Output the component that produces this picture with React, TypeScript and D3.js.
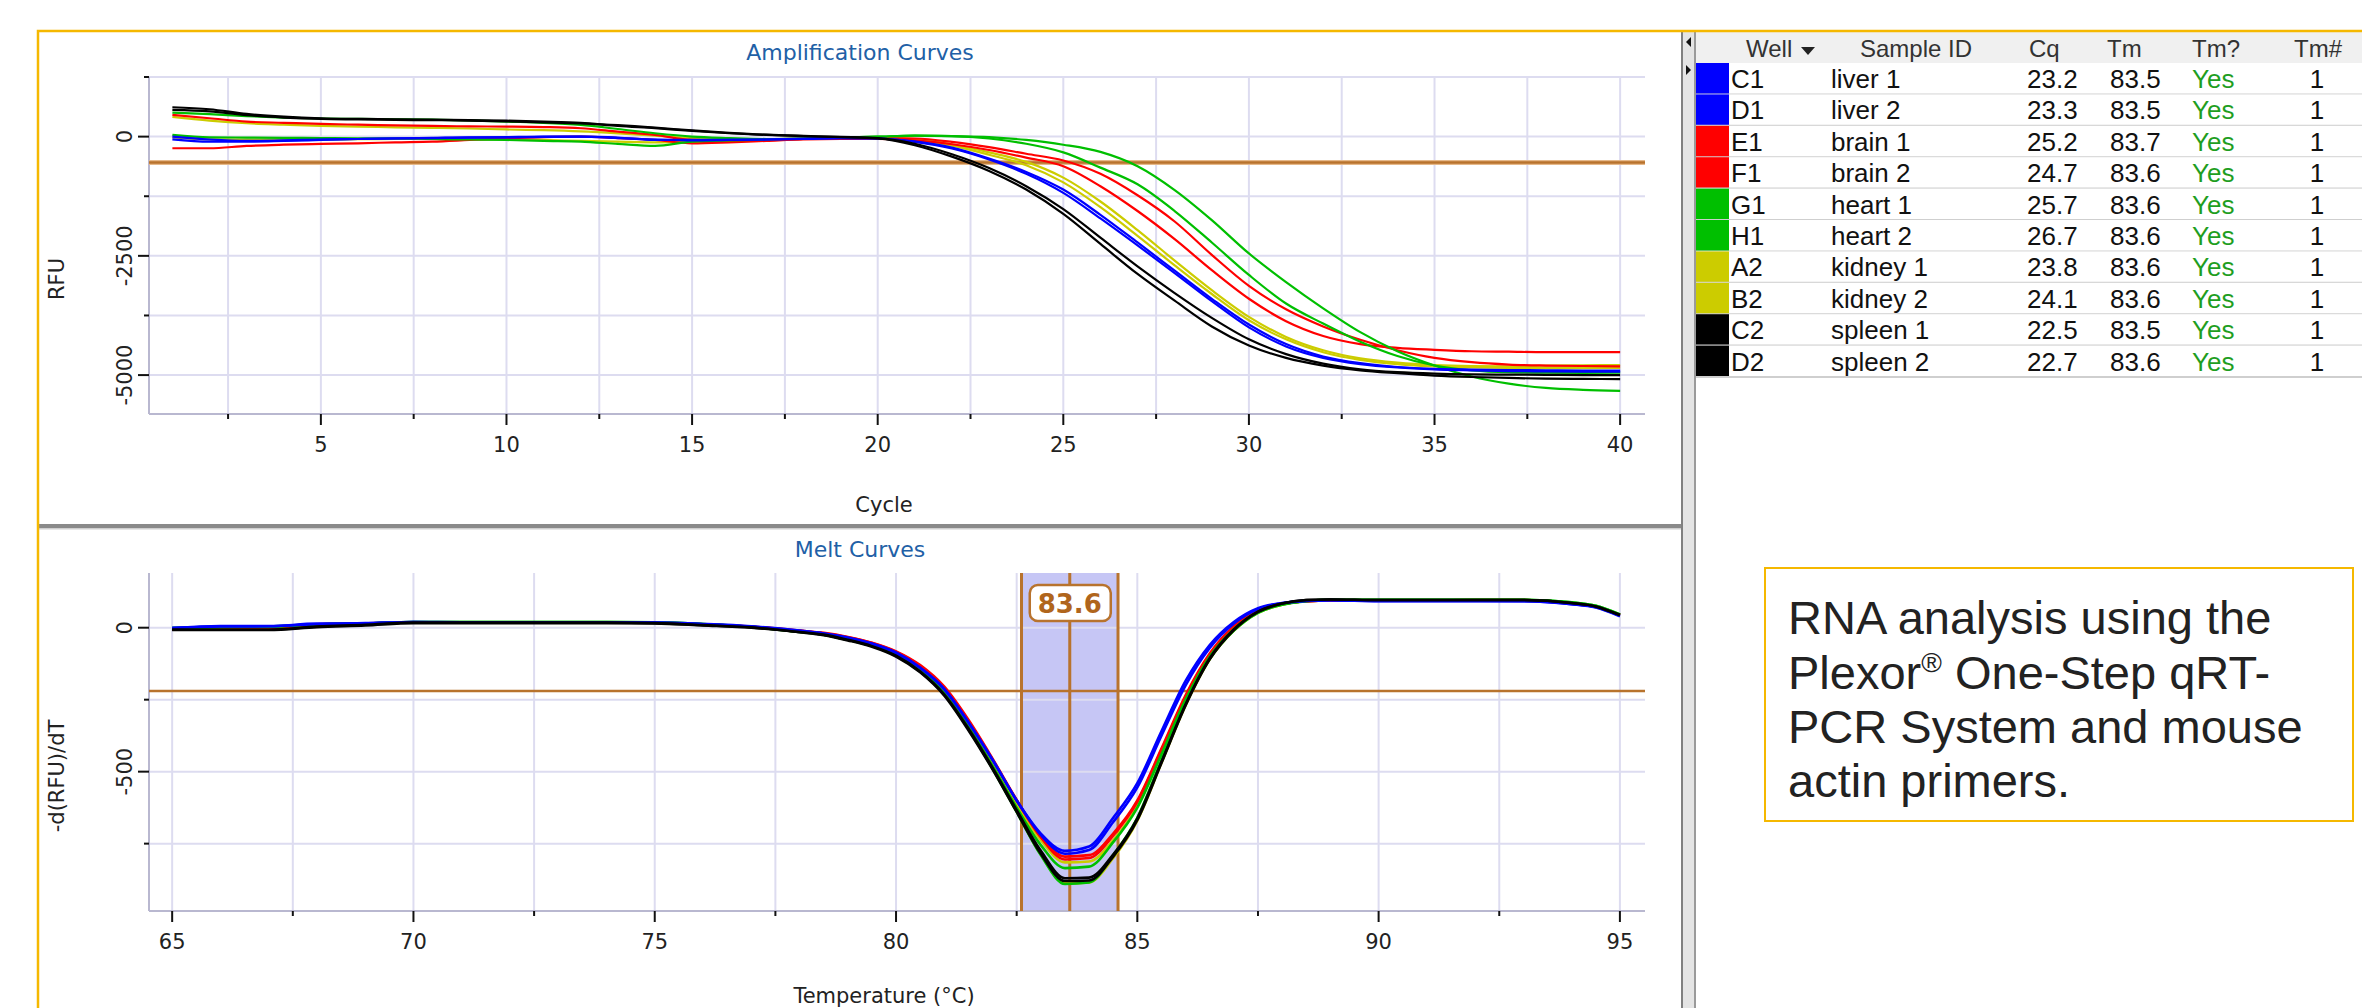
import React from 'react';
import * as d3 from 'd3';

// ---------------- DATA ----------------
const CYCLES = [1, 2, 3, 4, 5, 6, 7, 8, 9, 10, 11, 12, 13, 14, 15, 16, 17, 18, 19, 20, 21, 22, 23, 24, 25, 26, 27, 28, 29, 30, 31, 32, 33, 34, 35, 36, 37, 38, 39, 40];

const AMP_C1 = [-56, -105, -105, -90, -70, -50, -35, -25, -14, -14, -5, 0, -20, -70, -70, -70, -60, -40, -30, -40, -110, -250, -480, -780, -1180, -1715, -2280, -2860, -3450, -4000, -4400, -4640, -4770, -4840, -4880, -4900, -4915, -4925, -4930, -4930];
const AMP_D1 = [0, -60, -90, -80, -60, -50, -40, -30, -20, -10, 0, 0, -30, -60, -80, -70, -60, -50, -30, -40, -100, -230, -460, -740, -1110, -1640, -2220, -2810, -3400, -3940, -4350, -4610, -4750, -4830, -4870, -4885, -4895, -4900, -4905, -4905];
const AMP_E1 = [455, 385, 314, 290, 266, 250, 235, 224, 215, 210, 200, 175, 105, 36, -69, -80, -60, -40, -30, -30, -40, -110, -220, -360, -500, -780, -1230, -1780, -2480, -3130, -3620, -3980, -4260, -4480, -4640, -4730, -4780, -4800, -4810, -4816];
const AMP_F1 = [-244, -244, -195, -170, -154, -140, -120, -105, -70, -35, -10, 0, -30, -70, -140, -120, -90, -60, -50, -50, -80, -160, -280, -440, -620, -1040, -1560, -2150, -2800, -3400, -3870, -4180, -4350, -4430, -4470, -4500, -4510, -4520, -4520, -4520];
const AMP_G1 = [503, 470, 430, 400, 380, 372, 364, 355, 340, 314, 290, 245, 160, 70, 0, -30, -50, -40, -20, 0, 20, 10, -40, -150, -330, -650, -1000, -1560, -2220, -2900, -3500, -3920, -4300, -4600, -4800, -4900, -4940, -4950, -4955, -4950];
const AMP_H1 = [36, -14, -20, -25, -30, -35, -35, -50, -60, -70, -90, -105, -154, -195, -105, -80, -60, -40, -20, 0, 20, 10, -10, -70, -170, -320, -620, -1120, -1750, -2450, -3050, -3600, -4100, -4500, -4800, -5030, -5180, -5270, -5310, -5330];
const AMP_A2 = [413, 335, 280, 250, 224, 210, 195, 185, 170, 150, 135, 110, 70, 20, -30, -60, -60, -50, -30, -20, -70, -190, -380, -600, -960, -1480, -2080, -2700, -3300, -3850, -4250, -4520, -4680, -4770, -4820, -4840, -4850, -4855, -4855, -4850];
const AMP_B2 = [-14, -56, -60, -60, -60, -55, -50, -50, -55, -60, -70, -90, -105, -120, -110, -90, -70, -50, -30, -10, -50, -160, -330, -530, -860, -1360, -1960, -2600, -3220, -3780, -4200, -4480, -4650, -4740, -4790, -4810, -4815, -4800, -4795, -4790];
const AMP_C2 = [616, 574, 476, 419, 385, 372, 364, 355, 345, 335, 315, 287, 224, 176, 120, 71, 36, 10, -10, -40, -180, -420, -720, -1110, -1620, -2250, -2880, -3440, -3980, -4380, -4640, -4800, -4900, -4960, -5010, -5040, -5060, -5075, -5080, -5085];
const AMP_D2 = [560, 530, 450, 400, 370, 360, 350, 345, 335, 320, 300, 275, 240, 190, 130, 80, 40, 15, -5, -30, -150, -370, -660, -1040, -1520, -2120, -2720, -3280, -3800, -4250, -4560, -4760, -4880, -4940, -4970, -4985, -4990, -4995, -5000, -5000];

const MELT_TEMPS = [65, 66, 67, 68, 69, 70, 71, 72, 73, 74, 75, 76, 77, 78, 78.5, 79, 79.5, 80, 80.5, 81, 81.5, 82, 82.5, 83, 83.5, 84, 84.5, 85, 85.5, 86, 86.5, 87, 87.5, 88, 88.5, 89, 90, 91, 92, 93, 94, 94.5, 95];
const MELT_C1 = [-2, 6, 6, 12, 16, 20, 19, 19, 19, 19, 18, 12, 4, -12, -20, -36, -56, -88, -140, -215, -330, -460, -600, -715, -775, -760, -660, -540, -360, -185, -60, 20, 68, 86, 94, 96, 93, 93, 93, 92, 82, 70, 40];
const MELT_D1 = [0, 4, 5, 14, 15, 20, 18, 18, 18, 18, 18, 13, 5, -10, -20, -34, -55, -86, -138, -212, -328, -458, -600, -720, -785, -772, -675, -555, -375, -200, -70, 15, 65, 85, 93, 95, 92, 92, 92, 92, 82, 72, 42];
const MELT_E1 = [-5, 0, 0, 10, 14, 18, 18, 18, 18, 18, 17, 12, 4, -10, -18, -32, -52, -82, -130, -205, -320, -455, -598, -725, -795, -790, -715, -600, -420, -235, -90, 5, 60, 82, 92, 95, 95, 95, 96, 96, 86, 74, 44];
const MELT_F1 = [-4, 2, 0, 12, 15, 19, 18, 18, 18, 18, 17, 11, 3, -11, -19, -33, -53, -84, -133, -208, -324, -458, -600, -728, -805, -800, -722, -605, -425, -240, -95, 0, 58, 82, 92, 95, 95, 95, 96, 96, 85, 74, 44];
const MELT_G1 = [0, 3, 4, 12, 15, 20, 20, 20, 20, 20, 19, 13, 3, -14, -23, -40, -62, -95, -148, -228, -345, -480, -625, -755, -835, -830, -745, -625, -440, -250, -100, -5, 55, 82, 93, 97, 97, 97, 97, 97, 88, 76, 46];
const MELT_H1 = [-3, 2, 3, 12, 15, 20, 20, 20, 20, 20, 19, 13, 3, -15, -24, -42, -64, -98, -152, -232, -352, -490, -640, -790, -890, -885, -790, -660, -460, -262, -108, -10, 52, 80, 92, 97, 97, 97, 97, 97, 88, 76, 46];
const MELT_A2 = [-5, 0, 0, 10, 14, 18, 18, 18, 18, 18, 17, 11, 2, -14, -23, -40, -62, -96, -150, -230, -350, -488, -638, -788, -888, -885, -800, -670, -470, -270, -110, -10, 52, 80, 92, 95, 94, 94, 94, 94, 84, 72, 42];
const MELT_B2 = [-4, 1, 1, 11, 14, 18, 18, 18, 18, 18, 17, 11, 3, -12, -20, -36, -56, -88, -140, -218, -335, -468, -612, -738, -815, -812, -738, -618, -432, -245, -98, -3, 56, 81, 92, 95, 94, 94, 94, 94, 84, 72, 42];
const MELT_C2 = [-8, -8, -8, 2, 8, 16, 16, 16, 16, 16, 15, 8, 0, -16, -26, -44, -66, -100, -155, -236, -356, -492, -640, -785, -880, -878, -795, -668, -470, -270, -110, -8, 55, 84, 96, 98, 96, 96, 96, 96, 86, 74, 44];
const MELT_D2 = [-6, -7, -7, 4, 10, 18, 18, 18, 18, 18, 16, 9, 1, -15, -24, -42, -64, -97, -152, -232, -350, -486, -634, -775, -870, -868, -788, -662, -466, -266, -106, -6, 56, 84, 96, 98, 96, 96, 96, 96, 86, 74, 44];

const WELLS = ['C1', 'D1', 'E1', 'F1', 'G1', 'H1', 'A2', 'B2', 'C2', 'D2'];
const SAMPLES = ['liver 1', 'liver 2', 'brain 1', 'brain 2', 'heart 1', 'heart 2', 'kidney 1', 'kidney 2', 'spleen 1', 'spleen 2'];
const CQ = ['23.2', '23.3', '25.2', '24.7', '25.7', '26.7', '23.8', '24.1', '22.5', '22.7'];
const TM = ['83.5', '83.5', '83.7', '83.6', '83.6', '83.6', '83.6', '83.6', '83.5', '83.6'];
const TM_CALLED = ['Yes', 'Yes', 'Yes', 'Yes', 'Yes', 'Yes', 'Yes', 'Yes', 'Yes', 'Yes'];
const TM_COUNT = ['1', '1', '1', '1', '1', '1', '1', '1', '1', '1'];
const WELL_COLORS = ['#0000ff', '#0000ff', '#ff0000', '#ff0000', '#00bf00', '#00bf00', '#cccc00', '#cccc00', '#000000', '#000000'];

const AMP_SERIES = [AMP_C1, AMP_D1, AMP_E1, AMP_F1, AMP_G1, AMP_H1, AMP_A2, AMP_B2, AMP_C2, AMP_D2];
const MELT_SERIES = [MELT_C1, MELT_D1, MELT_E1, MELT_F1, MELT_G1, MELT_H1, MELT_A2, MELT_B2, MELT_C2, MELT_D2];

const AMP_X_TICKS = [5, 10, 15, 20, 25, 30, 35, 40];
const AMP_X_MINOR = [2.5, 7.5, 12.5, 17.5, 22.5, 27.5, 32.5, 37.5];
const AMP_Y_TICKS = [0, -2500, -5000];
const AMP_Y_MINOR = [1250, -1250, -3750];
const MELT_X_TICKS = [65, 70, 75, 80, 85, 90, 95];
const MELT_X_MINOR = [67.5, 72.5, 77.5, 82.5, 87.5, 92.5];
const MELT_Y_TICKS = [0, -500];
const MELT_Y_MINOR = [-250, -750];
const AMP_THRESHOLD = -545;
const MELT_THRESHOLD = -220;
const MELT_PEAK = 83.6;
const MELT_BAND = [82.6, 84.6];

const TEXT_LINES = ['RNA analysis using the', 'Plexor', ' One-Step qRT-', 'PCR System and mouse', 'actin primers.'];

// ---------------- LAYOUT ----------------
const W = 2362;
const H = 1008;
const PL = 149;
const PR = 1645;
const AMP_T = 77;
const AMP_B = 414;
const MELT_T = 573;
const MELT_B = 911;
const GOLD = '#f5b800';
const BROWN = '#b8732d';
const GRID = '#dddcf0';
const AXIS = '#b9b8d0';
const AXFONT = "'DejaVu Sans', Verdana, sans-serif";
const TBFONT = "'Liberation Sans', Arial, sans-serif";

const ampX = d3.scaleLinear().domain([0.37, 40.67]).range([PL, PR]);
const ampY = d3.scaleLinear().domain([-5816, 1250]).range([AMP_B, AMP_T]);
const meltX = d3.scaleLinear().domain([64.52, 95.52]).range([PL, PR]);
const meltY = d3.scaleLinear().domain([-984, 190]).range([MELT_B, MELT_T]);

function Axes({ xs, ys, top, bottom, xTicks, xMinor, yTicks, yMinor, xGrid, yGrid }: any) {
  return (
    <g>
      {xGrid.map((v: number) => (
        <line key={'gx' + v} x1={xs(v)} x2={xs(v)} y1={top} y2={bottom} stroke={GRID} strokeWidth={2} />
      ))}
      {yGrid.map((v: number) => (
        <line key={'gy' + v} x1={PL} x2={PR} y1={ys(v)} y2={ys(v)} stroke={GRID} strokeWidth={2} />
      ))}
      <line x1={PL} x2={PL} y1={top} y2={bottom} stroke={AXIS} strokeWidth={2} />
      <line x1={PL} x2={PR} y1={bottom} y2={bottom} stroke={AXIS} strokeWidth={2} />
      {xTicks.map((v: number) => (
        <g key={'xt' + v}>
          <line x1={xs(v)} x2={xs(v)} y1={bottom} y2={bottom + 11} stroke="#111" strokeWidth={2} />
          <text x={xs(v)} y={bottom + 38} textAnchor="middle" fontFamily={AXFONT} fontSize={21} fill="#222">{v}</text>
        </g>
      ))}
      {xMinor.map((v: number) => (
        <line key={'xm' + v} x1={xs(v)} x2={xs(v)} y1={bottom} y2={bottom + 5} stroke="#111" strokeWidth={2} />
      ))}
      {yTicks.map((v: number) => (
        <g key={'yt' + v}>
          <line x1={PL - 11} x2={PL} y1={ys(v)} y2={ys(v)} stroke="#111" strokeWidth={2} />
          <text transform={`translate(125,${ys(v)}) rotate(-90)`} textAnchor="middle" dominantBaseline="central" fontFamily={AXFONT} fontSize={21} fill="#222">{v}</text>
        </g>
      ))}
      {yMinor.map((v: number) => (
        <line key={'ym' + v} x1={PL - 5} x2={PL} y1={ys(v)} y2={ys(v)} stroke="#111" strokeWidth={2} />
      ))}
    </g>
  );
}

export default function App() {
  const ampLine = d3.line<number>().x((_, i) => ampX(CYCLES[i])).y((d) => ampY(d)).curve(d3.curveMonotoneX);
  const meltLine = d3.line<number>().x((_, i) => meltX(MELT_TEMPS[i])).y((d) => meltY(d)).curve(d3.curveMonotoneX);
  const rowTop = 63;
  const rowH = 31.4;
  const order = [6, 7, 2, 3, 4, 5, 0, 1, 8, 9];
  return (
    <div>
      <style>{`body{margin:0;}`}</style>
      <svg width={W} height={H} viewBox={`0 0 ${W} ${H}`} style={{ display: 'block', background: '#fff' }}>
        <rect x={0} y={0} width={W} height={H} fill="#fff" />

        {/* ---------- Amplification chart ---------- */}
        <text x={860} y={60} textAnchor="middle" fontFamily={AXFONT} fontSize={22} fill="#2160a6">Amplification Curves</text>
        <Axes xs={ampX} ys={ampY} top={AMP_T} bottom={AMP_B} xTicks={AMP_X_TICKS} xMinor={AMP_X_MINOR}
          yTicks={AMP_Y_TICKS} yMinor={AMP_Y_MINOR} xGrid={[...AMP_X_MINOR, ...AMP_X_TICKS]} yGrid={[...AMP_Y_TICKS, ...AMP_Y_MINOR]} />
        <line x1={PL} x2={PR} y1={ampY(AMP_THRESHOLD)} y2={ampY(AMP_THRESHOLD)} stroke="#e6b98a" strokeWidth={5} />
        <line x1={PL} x2={PR} y1={ampY(AMP_THRESHOLD)} y2={ampY(AMP_THRESHOLD)} stroke={BROWN} strokeWidth={2.5} />
        {order.map((i) => (
          <path key={'amp' + i} d={ampLine(AMP_SERIES[i]) || ''} fill="none" stroke={WELL_COLORS[i]} strokeWidth={2.2} />
        ))}
        <text x={884} y={512} textAnchor="middle" fontFamily={AXFONT} fontSize={21} fill="#222">Cycle</text>
        <text transform="translate(57,279) rotate(-90)" textAnchor="middle" dominantBaseline="central" fontFamily={AXFONT} fontSize={21} fill="#222">RFU</text>

        {/* splitter */}
        <rect x={38} y={524} width={1643} height={4} fill="#8a8a8a" />
        <rect x={38} y={528} width={1643} height={1.5} fill="#cfcfcf" />

        {/* ---------- Melt chart ---------- */}
        <text x={860} y={557} textAnchor="middle" fontFamily={AXFONT} fontSize={22} fill="#2160a6">Melt Curves</text>
        <rect x={meltX(MELT_BAND[0])} y={MELT_T} width={meltX(MELT_BAND[1]) - meltX(MELT_BAND[0])} height={MELT_B - MELT_T} fill="#c6c6f5" />
        <Axes xs={meltX} ys={meltY} top={MELT_T} bottom={MELT_B} xTicks={MELT_X_TICKS} xMinor={MELT_X_MINOR}
          yTicks={MELT_Y_TICKS} yMinor={MELT_Y_MINOR} xGrid={[...MELT_X_TICKS, ...MELT_X_MINOR]} yGrid={[...MELT_Y_TICKS, ...MELT_Y_MINOR]} />
        <line x1={PL} x2={PR} y1={meltY(MELT_THRESHOLD)} y2={meltY(MELT_THRESHOLD)} stroke={BROWN} strokeWidth={2.5} />
        {[MELT_BAND[0], MELT_PEAK, MELT_BAND[1]].map((v) => (
          <line key={'v' + v} x1={meltX(v)} x2={meltX(v)} y1={MELT_T} y2={MELT_B} stroke={BROWN} strokeWidth={3} />
        ))}
        {order.map((i) => (
          <path key={'melt' + i} d={meltLine(MELT_SERIES[i]) || ''} fill="none" stroke={WELL_COLORS[i]} strokeWidth={2.6} />
        ))}
        <rect x={meltX(MELT_PEAK) - 40} y={585} width={81} height={36} rx={8} fill="#fff" stroke={BROWN} strokeWidth={2.5} />
        <text x={meltX(MELT_PEAK)} y={613} textAnchor="middle" fontFamily={AXFONT} fontWeight="bold" fontSize={26} fill="#b0651c">{MELT_PEAK}</text>
        <text x={884} y={1003} textAnchor="middle" fontFamily={AXFONT} fontSize={21} fill="#222">Temperature (°C)</text>
        <text transform="translate(57,776) rotate(-90)" textAnchor="middle" dominantBaseline="central" fontFamily={AXFONT} fontSize={21} fill="#222">-d(RFU)/dT</text>

        {/* ---------- Divider ---------- */}
        <rect x={1681} y={31} width={15} height={H - 31} fill="#e4e4e4" />
        <line x1={1682} x2={1682} y1={31} y2={H} stroke="#808080" strokeWidth={2} />
        <line x1={1695} x2={1695} y1={31} y2={H} stroke="#9a9a9a" strokeWidth={2} />
        <polygon points="1691,37 1691,47 1686,42" fill="#111" />
        <polygon points="1686,65 1686,75 1691,70" fill="#111" />

        {/* ---------- Table ---------- */}
        <rect x={1696} y={32} width={W - 1696} height={31} fill="#f0f0f0" />
        <g fontFamily={TBFONT} fontSize={24} fill="#333">
          <text x={1746} y={57}>{'Well'}</text>
          <text x={1860} y={57}>Sample ID</text>
          <text x={2029} y={57}>Cq</text>
          <text x={2107} y={57}>Tm</text>
          <text x={2192} y={57}>Tm?</text>
          <text x={2294} y={57}>Tm#</text>
        </g>
        <polygon points="1801,47 1815,47 1808,55" fill="#222" />
        {WELLS.map((w, i) => {
          const y0 = rowTop + i * rowH;
          return (
            <g key={'row' + w}>
              <rect x={1696} y={y0} width={W - 1696} height={rowH} fill="#fff" />
              <rect x={1696} y={y0} width={33} height={rowH} fill={WELL_COLORS[i]} />
              <line x1={1696} x2={W} y1={y0 + rowH} y2={y0 + rowH} stroke="#cfcfcf" strokeWidth={2} />
              <g fontFamily={TBFONT} fontSize={26} fill="#111">
                <text x={1731} y={y0 + 25}>{w}</text>
                <text x={1831} y={y0 + 25}>{SAMPLES[i]}</text>
                <text x={2027} y={y0 + 25}>{CQ[i]}</text>
                <text x={2110} y={y0 + 25}>{TM[i]}</text>
                <text x={2192} y={y0 + 25} fill="#1f9e1f">{TM_CALLED[i]}</text>
                <text x={2317} y={y0 + 25} textAnchor="middle">{TM_COUNT[i]}</text>
              </g>
            </g>
          );
        })}

        {/* ---------- Note box ---------- */}
        <rect x={1765} y={568} width={588} height={253} fill="#fff" stroke={GOLD} strokeWidth={2} />
        <g fontFamily={TBFONT} fontSize={47} fill="#222">
          <text x={1788} y={634}>{TEXT_LINES[0]}</text>
          <text x={1788} y={689}>{TEXT_LINES[1]}<tspan fontSize={28} dy={-17}>®</tspan><tspan dy={17}>{TEXT_LINES[2]}</tspan></text>
          <text x={1788} y={743}>{TEXT_LINES[3]}</text>
          <text x={1788} y={797}>{TEXT_LINES[4]}</text>
        </g>

        {/* ---------- Frame ---------- */}
        <path d={`M38,${H} V31 H${W}`} fill="none" stroke={GOLD} strokeWidth={2.5} />
      </svg>
    </div>
  );
}
